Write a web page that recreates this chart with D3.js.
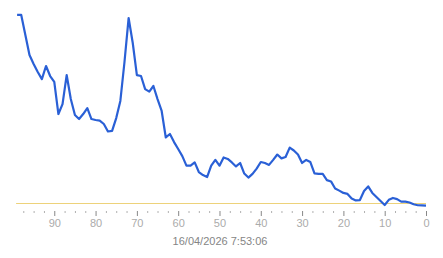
<!DOCTYPE html>
<html>
<head>
<meta charset="utf-8">
<script src="https://cdn.jsdelivr.net/npm/d3@7"></script>
<style>
  body { margin: 0; background: #fff; }
  text { font-family: "Liberation Sans", Arial, sans-serif; }
</style>
</head>
<body>
<div id="chart"></div>
<script>
// samples, oldest first (age 99 -> 0)
var ages = d3.range(99, -1, -1)
var values = [
    99.5, 99.5, 89.1, 78.6, 74.0, 69.8, 66.1, 72.9, 67.7, 64.6,
    47.9, 53.1, 68.2, 55.7, 47.4, 45.3, 47.9, 51.0, 45.3, 44.8,
    44.5, 42.7, 38.8, 39.1, 45.8, 54.7, 75.0, 97.9, 84.9, 68.2,
    67.7, 60.9, 59.6, 62.5, 55.7, 49.5, 35.7, 37.5, 33.3, 29.7,
    26.0, 21.0, 21.0, 22.7, 17.7, 16.1, 15.1, 21.0, 24.0, 21.0,
    25.3, 24.5, 22.7, 20.6, 22.4, 16.9, 14.8, 16.7, 19.5, 22.9,
    22.4, 21.4, 24.0, 26.8, 24.8, 25.5, 30.4, 28.9, 26.8, 22.4,
    24.0, 22.9, 17.0, 16.7, 16.7, 13.5, 12.8, 9.1, 8.0, 6.8,
    6.3, 3.9, 2.9, 3.1, 7.8, 10.2, 6.8, 4.7, 2.6, 0.5,
    3.2, 4.2, 3.6, 2.3, 2.3, 1.8, 0.9, 0.4, 0.3, 0.2
]
var threshold = 1.4
var majorTicks = [90, 80, 70, 60, 50, 40, 30, 20, 10, 0]
var minorTicks = d3.range(97.5, 0, -2.5).filter(d => d % 10 != 0)
var stamp = "16/04/2026 7:53:06"

var width = 443, height = 258

var svg = d3.select("#chart")
    .append("svg")
    .attr("width", width)
    .attr("height", height)

var x = d3.scaleLinear()
    .domain([99, 0])
    .range([17.1, 426])

var y = d3.scaleLinear()
    .domain([0, 100])
    .range([206, 14])

// minor ticks
var minor = svg.append("g")
    .attr("transform", "translate(0,211)")
    .call(d3.axisBottom(x).tickValues(minorTicks).tickSize(2).tickFormat(""))
minor.select(".domain").remove()
minor.selectAll(".tick line").attr("stroke", "#b0b0b0")

// major ticks
var xAxis = svg.append("g")
    .attr("transform", "translate(0,211)")
    .call(d3.axisBottom(x).tickValues(majorTicks).tickSize(5).tickPadding(3))
xAxis.select(".domain").remove()
xAxis.selectAll(".tick line").attr("stroke", "#888")
xAxis.selectAll(".tick text")
    .attr("fill", "#ababab")
    .style("font-size", "11px")
    .style("font-family", "'Liberation Sans', Arial, sans-serif")

// threshold line
svg.append("line")
    .attr("x1", x(99) - 1)
    .attr("x2", x(0))
    .attr("y1", Math.round(y(threshold)) + 0.5)
    .attr("y2", Math.round(y(threshold)) + 0.5)
    .attr("stroke", "#edd27a")
    .attr("stroke-width", 1)

var line = d3.line()
    .x(function(d, i) { return x(ages[i]); })
    .y(function(d) { return y(d); })

svg.append("path")
    .datum(values)
    .attr("fill", "none")
    .attr("stroke", "#2a60d6")
    .attr("stroke-width", 2.2)
    .attr("stroke-linejoin", "round")
    .attr("d", line)

svg.append("text")
    .attr("x", 220)
    .attr("y", 245)
    .attr("text-anchor", "middle")
    .attr("fill", "#858585")
    .style("font-size", "11px")
    .text(stamp)
</script>
</body>
</html>
